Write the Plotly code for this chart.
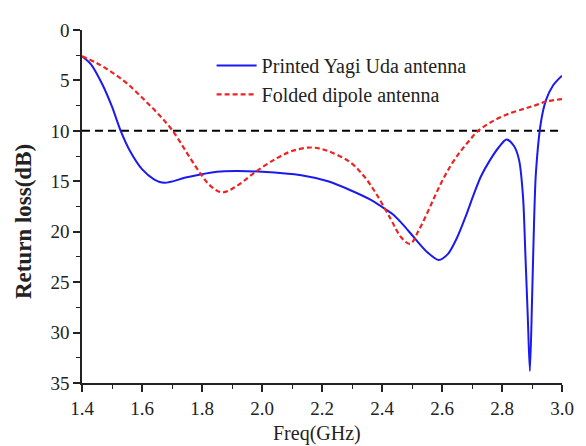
import plotly.graph_objects as go

# Printed Yagi Uda antenna (blue)
yagi_freq = [1.40, 1.43, 1.468, 1.50, 1.529, 1.56, 1.60, 1.64, 1.675, 1.75, 1.85, 1.914, 2.0,
             2.131, 2.22, 2.293, 2.36, 2.413, 2.437, 2.47, 2.502, 2.55, 2.589, 2.62, 2.65, 2.68,
             2.707, 2.73, 2.76, 2.79, 2.815, 2.84, 2.857, 2.870, 2.878, 2.886, 2.893, 2.900,
             2.906, 2.913, 2.93, 2.946, 2.97, 3.0]
yagi_rl = [2.6, 3.4, 5.4, 7.6, 10.0, 12.0, 13.8, 14.8, 15.15, 14.6, 14.05, 13.98, 14.05,
           14.4, 15.0, 15.86, 16.8, 17.8, 18.3, 19.3, 20.4, 22.0, 22.8, 22.2, 20.6, 18.4,
           16.2, 14.5, 12.9, 11.6, 10.85, 11.5, 12.9, 16.5, 22.3, 28.5, 33.8, 27.0,
           20.0, 14.2, 9.1, 7.0, 5.5, 4.53]

# Folded dipole antenna (red dashed)
dipole_freq = [1.40, 1.45, 1.50, 1.55, 1.60, 1.65, 1.70, 1.75, 1.795, 1.83, 1.868, 1.914, 1.977,
               2.05, 2.10, 2.164, 2.22, 2.293, 2.34, 2.38, 2.43, 2.465, 2.494, 2.52, 2.55, 2.576,
               2.60, 2.63, 2.66, 2.69, 2.72, 2.76, 2.814, 2.878, 2.913, 2.946, 3.0]
dipole_rl = [2.6, 3.3, 4.2, 5.3, 6.7, 8.2, 9.9, 12.2, 14.24, 15.5, 16.1, 15.5, 14.1,
             12.7, 12.0, 11.65, 12.0, 13.1, 14.5, 16.2, 18.8, 20.6, 21.2, 20.0, 18.2, 16.5,
             15.0, 13.4, 12.1, 11.0, 10.0, 9.2, 8.4, 7.77, 7.45, 7.1, 6.86]

# -10 dB reference line
ref_freq = [1.4, 3.0]
ref_rl = [10, 10]

x_ticks = [1.4, 1.6, 1.8, 2.0, 2.2, 2.4, 2.6, 2.8, 3.0]
y_ticks = [0, 5, 10, 15, 20, 25, 30, 35]

FONT = "Liberation Serif"
INK = "#222"

fig = go.Figure()
fig.add_trace(go.Scatter(x=ref_freq, y=ref_rl, mode="lines", showlegend=False,
                         line=dict(color="black", width=2, dash="8px,5px"), hoverinfo="skip"))
fig.add_trace(go.Scatter(x=yagi_freq, y=yagi_rl, mode="lines", name="Printed Yagi Uda antenna",
                         line=dict(color="#1a1aee", width=2, shape="spline", smoothing=0.8)))
fig.add_trace(go.Scatter(x=dipole_freq, y=dipole_rl, mode="lines", name="Folded dipole antenna",
                         line=dict(color="#ee2222", width=2.2, dash="5px,3px", shape="spline", smoothing=1.0)))

fig.update_layout(
    width=578, height=438,
    margin=dict(l=74, r=12, t=12, b=63),
    paper_bgcolor="white", plot_bgcolor="white",
    font=dict(family=FONT, size=19, color=INK),
    legend=dict(x=0.27, y=0.955, xanchor="left", yanchor="top", bgcolor="rgba(0,0,0,0)",
                font=dict(family=FONT, size=20, color=INK), tracegroupgap=0,
                itemwidth=40),
    xaxis=dict(range=[1.4, 3.0], tickvals=x_ticks, ticktext=[f"{v:.1f}" for v in x_ticks],
               showgrid=False, zeroline=False, showline=True, linecolor=INK, linewidth=1.5,
               ticks="outside", ticklen=7, tickwidth=1.5, tickcolor=INK,
               tickfont=dict(family=FONT, size=19, color=INK),
               minor=dict(dtick=0.1, tick0=1.4, ticks="outside", ticklen=4, tickwidth=1.2, tickcolor=INK)),
    yaxis=dict(range=[35, 0], tickvals=y_ticks,
               showgrid=False, zeroline=False, showline=True, linecolor=INK, linewidth=1.5,
               ticks="outside", ticklen=7, tickwidth=1.5, tickcolor=INK,
               tickfont=dict(family=FONT, size=19, color=INK),
               minor=dict(dtick=2.5, tick0=0, ticks="outside", ticklen=4, tickwidth=1.2, tickcolor=INK)),
    annotations=[
        dict(text="Freq(GHz)", xref="paper", yref="paper", x=0.49, y=-0.143,
             xanchor="center", yanchor="middle", showarrow=False,
             font=dict(family=FONT, size=20, color=INK)),
        dict(text="<b>Return loss(dB)</b>", xref="paper", yref="paper", x=-0.122, y=0.457,
             xanchor="center", yanchor="middle", textangle=-90, showarrow=False,
             font=dict(family=FONT, size=23, color=INK)),
    ],
)

fig.write_html("out.html")
